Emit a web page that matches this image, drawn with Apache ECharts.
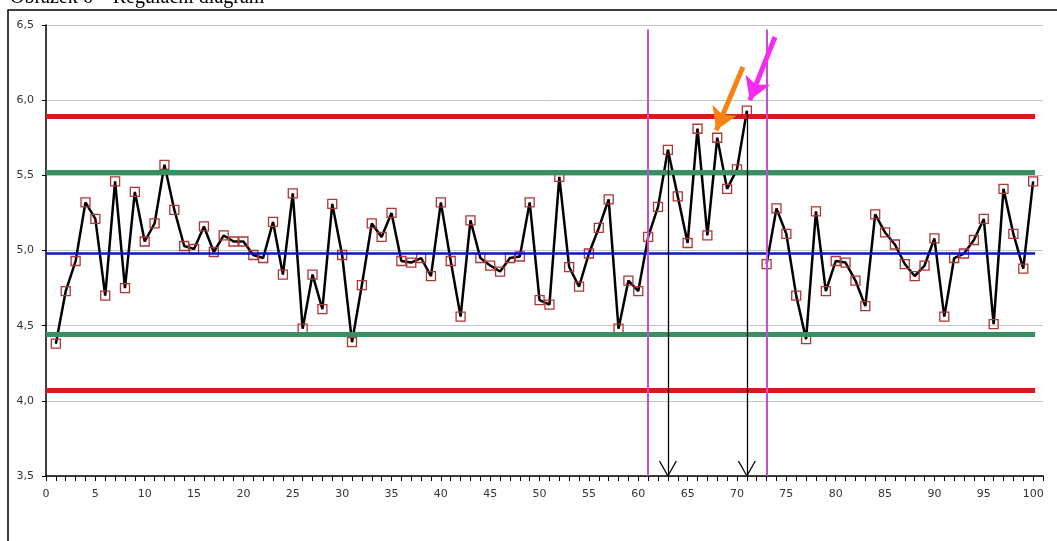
<!DOCTYPE html>
<html>
<head>
<meta charset="utf-8">
<script src="https://cdn.jsdelivr.net/npm/echarts@6/dist/echarts.min.js"></script>
<style>
  html, body { margin: 0; padding: 0; background: #fff; }
  #chart { width: 1057px; height: 541px; }
</style>
</head>
<body>
<div id="chart"></div>
<script>
// sample number 1..100, value of each sample (72 is missing in the picture)
var samples = [];
for (var i = 1; i <= 100; i++) samples.push(i);
var values = [
  4.38, 4.73, 4.93, 5.32, 5.21, 4.70, 5.46, 4.75, 5.39, 5.06,
  5.18, 5.57, 5.27, 5.03, 5.01, 5.16, 4.99, 5.10, 5.06, 5.06,
  4.97, 4.95, 5.19, 4.84, 5.38, 4.48, 4.84, 4.61, 5.31, 4.97,
  4.39, 4.77, 5.18, 5.09, 5.25, 4.93, 4.92, 4.95, 4.83, 5.32,
  4.93, 4.56, 5.20, 4.95, 4.90, 4.86, 4.95, 4.96, 5.32, 4.67,
  4.64, 5.49, 4.89, 4.76, 4.98, 5.15, 5.34, 4.48, 4.80, 4.73,
  5.09, 5.29, 5.67, 5.36, 5.05, 5.81, 5.10, 5.75, 5.41, 5.54,
  5.93, null, 4.91, 5.28, 5.11, 4.70, 4.41, 5.26, 4.73, 4.93,
  4.92, 4.80, 4.63, 5.24, 5.12, 5.04, 4.91, 4.83, 4.90, 5.08,
  4.56, 4.95, 4.98, 5.07, 5.21, 4.51, 5.41, 5.11, 4.88, 5.46
];

// control limits
var centerLine = 4.98;
var warnLimits = [5.52, 4.44];
var ctrlLimits = [5.89, 4.07];
var limitEnd = 100.2;

// window of interest (magenta lines) and the two marked samples (black arrows)
var windowBounds = [61, 73];
var windowTop = 6.47;
var markedSamples = [63, 71];

// coloured pointer arrows: [fromX, fromY, toX, toY]
var orangeArrow = [70.6, 6.22, 67.9, 5.80];
var pinkArrow = [73.85, 6.42, 71.3, 6.00];

var yTicks = [3.5, 4.0, 4.5, 5.0, 5.5, 6.0, 6.5];

var chart = echarts.init(document.getElementById('chart'));

var points = samples.map(function (s, k) {
  return [s, values[k] === null ? '-' : values[k]];
});

function hLine(v, color, width) {
  return [
    { coord: [0, v], lineStyle: { color: color, width: width, type: 'solid' } },
    { coord: [limitEnd, v] }
  ];
}

var limitLines = [
  hLine(ctrlLimits[0], '#d41c1c', 5),
  hLine(ctrlLimits[1], '#d41c1c', 5),
  hLine(warnLimits[0], '#3a8f62', 5),
  hLine(warnLimits[1], '#3a8f62', 5),
  hLine(centerLine, '#0a14c8', 2.5)
];
windowBounds.forEach(function (x) {
  limitLines.push([
    { coord: [x, windowTop], lineStyle: { color: '#c64fd0', width: 2, type: 'solid' } },
    { coord: [x, yTicks[0]] }
  ]);
});

var blackArrows = [];
markedSamples.forEach(function (s) {
  var v = values[s - 1];
  var st = { color: '#000', width: 1.3, type: 'solid' };
  blackArrows.push([{ coord: [s, v], lineStyle: st }, { coord: [s, yTicks[0]] }]);
  blackArrows.push([{ coord: [s - 0.85, yTicks[0] + 0.1], lineStyle: st }, { coord: [s, yTicks[0]] }]);
  blackArrows.push([{ coord: [s + 0.85, yTicks[0] + 0.1], lineStyle: st }, { coord: [s, yTicks[0]] }]);
});

function pointer(a, color) {
  return [
    { coord: [a[0], a[1]], lineStyle: { color: color, width: 5, type: 'solid' },
      symbol: 'none' },
    { coord: [a[2], a[3]], symbol: 'arrow', symbolSize: [20, 22],
      itemStyle: { color: color } }
  ];
}

var option = {
  animation: false,
  backgroundColor: '#fff',
  grid: { left: 46, top: 25, width: 997, height: 451 },
  graphic: [
    {
      type: 'text', left: 10, top: -12,
      style: { text: 'Obrázek 6 – Regulační diagram', font: '20px "Liberation Serif"', fill: '#000' }
    },
    {
      type: 'rect', shape: { x: 8, y: 10, width: 1200, height: 700 },
      style: { fill: 'none', stroke: '#000', lineWidth: 1.5 }, z: 100
    }
  ],
  xAxis: {
    type: 'value', min: 0, max: 101, interval: 1,
    axisLine: { lineStyle: { color: '#000', width: 1.5 } },
    axisTick: { length: 5, lineStyle: { color: '#000', width: 1 } },
    axisLabel: {
      margin: 13, color: '#333', fontSize: 11, fontFamily: 'DejaVu Sans',
      formatter: function (v) { return (v % 5 === 0 && v <= 100) ? String(v) : ''; }
    },
    splitLine: { show: false }
  },
  yAxis: {
    type: 'value', min: yTicks[0], max: yTicks[yTicks.length - 1], interval: 0.5,
    axisLine: { show: true, lineStyle: { color: '#000', width: 1.5 } },
    axisTick: { show: true, length: 4, lineStyle: { color: '#000' } },
    axisLabel: {
      margin: 12, color: '#333', fontSize: 11, fontFamily: 'DejaVu Sans',
      padding: [0, 0, 4, 0],
      formatter: function (v) { return v.toFixed(1).replace('.', ','); }
    },
    splitLine: { show: true, lineStyle: { color: '#c4c4c4', width: 1 } }
  },
  series: [
    {
      type: 'line', data: [], z: 1, silent: true,
      markLine: { silent: true, symbol: 'none', label: { show: false }, data: limitLines }
    },
    {
      type: 'line', data: points, z: 3,
      connectNulls: false,
      symbol: 'rect', symbolSize: 9,
      lineStyle: { color: '#000', width: 2.5 },
      itemStyle: { color: 'rgba(255,255,255,0)', borderColor: '#b03535', borderWidth: 1.3 }
    },
    {
      type: 'line', data: [], z: 4, silent: true,
      markLine: { silent: true, symbol: 'none', label: { show: false }, data: blackArrows }
    },
    {
      type: 'line', data: [], z: 5, silent: true,
      markLine: {
        silent: true, label: { show: false },
        data: [pointer(orangeArrow, '#f58214'), pointer(pinkArrow, '#f52cf0')]
      }
    }
  ]
};

chart.setOption(option);
</script>
</body>
</html>
